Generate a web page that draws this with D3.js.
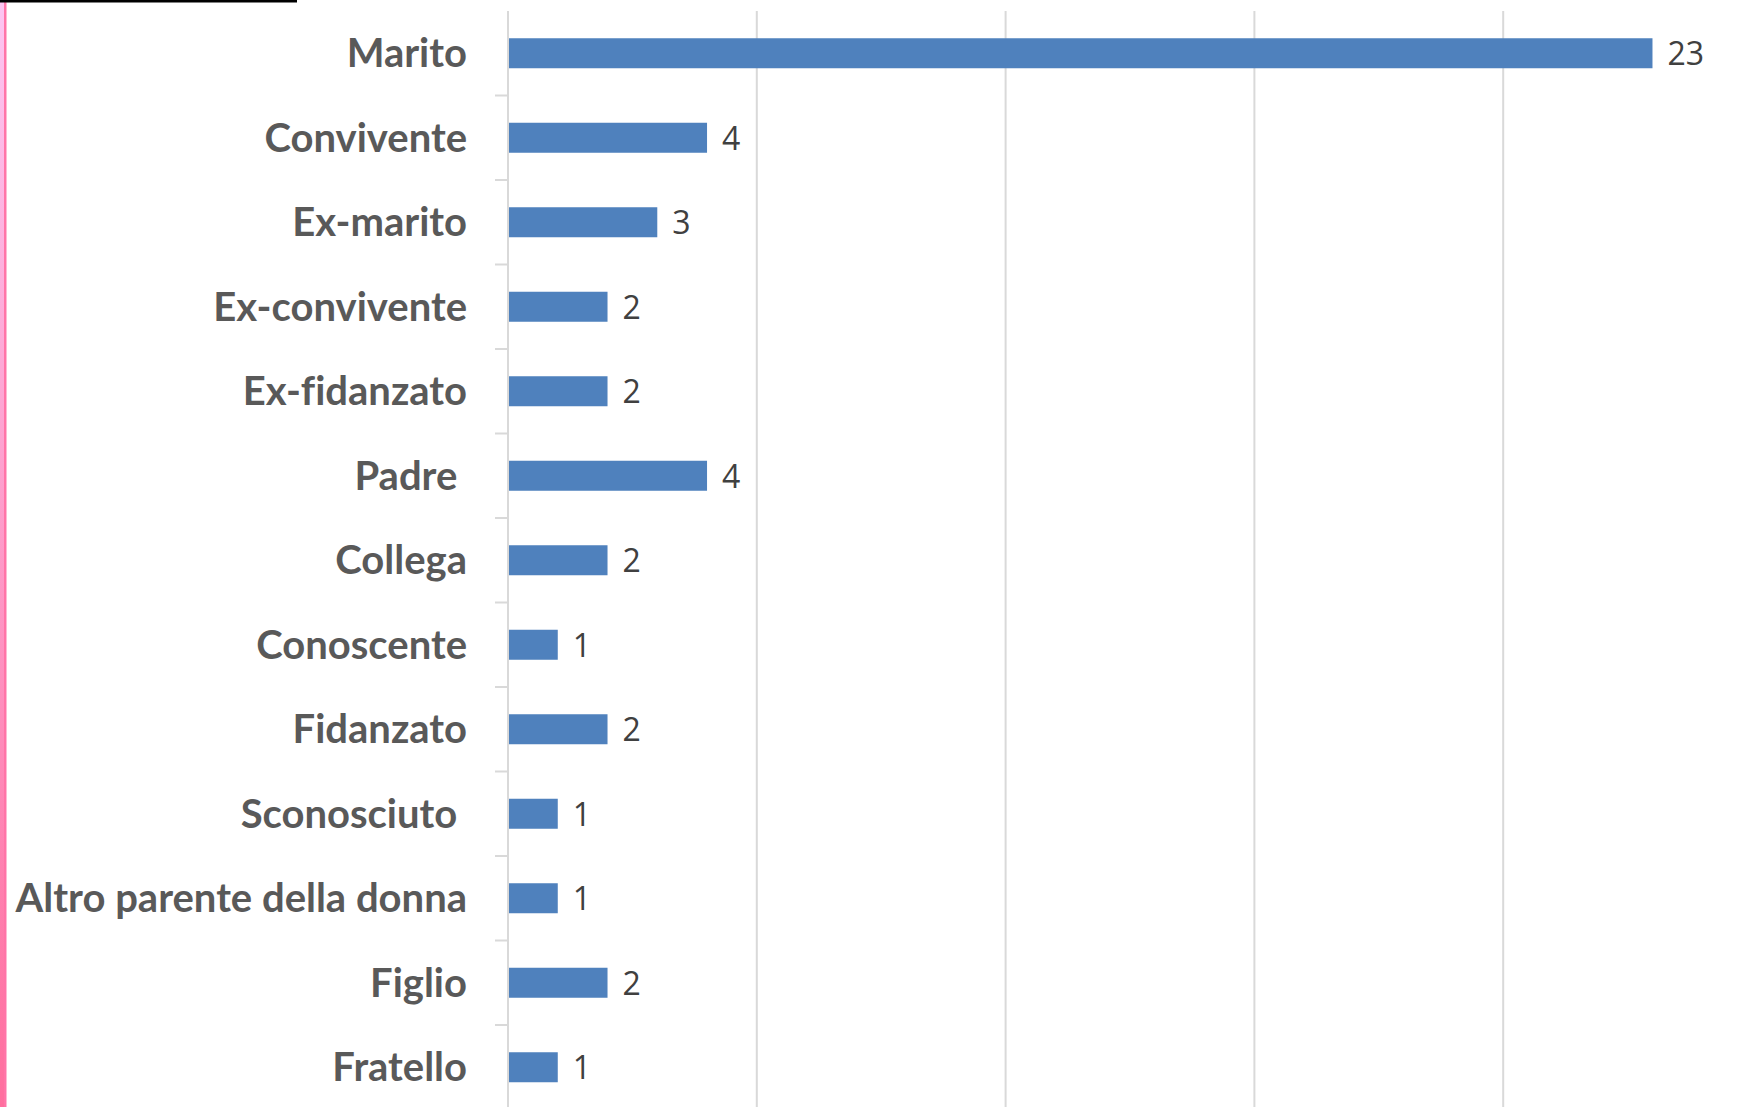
<!DOCTYPE html>
<html lang="it">
<head>
<meta charset="UTF-8">
<title>Autori</title>
<style>
  html, body { margin: 0; padding: 0; background: #fff; overflow: hidden; }
  svg { display: block; }
</style>
</head>
<body>
<svg id="chart"></svg>
<script src="https://cdn.jsdelivr.net/npm/d3@7/dist/d3.min.js"></script>
<script>
    const categories = ["Marito", "Convivente", "Ex-marito", "Ex-convivente", "Ex-fidanzato", "Padre ",
        "Collega", "Conoscente", "Fidanzato", "Sconosciuto ", "Altro parente della donna", "Figlio", "Fratello"];
    const values = [23, 4, 3, 2, 2, 4, 2, 1, 2, 1, 1, 2, 1];
    const gridTicks = [0, 5, 10, 15, 20, 25];

    const width = 1740, height = 1107;
    const axisX = 508, axisTop = 11;

    const svg = d3.select("#chart")
        .attr("width", width)
        .attr("height", height);

    // stripe on the left edge
    const grad = svg.append("defs").append("linearGradient")
        .attr("id", "stripe").attr("x1", 0).attr("x2", 0).attr("y1", 0).attr("y2", 1);
    grad.append("stop").attr("offset", "0%").attr("stop-color", "#fcc6f2");
    grad.append("stop").attr("offset", "100%").attr("stop-color", "#ff6e9e");
    svg.append("rect").attr("x", 0).attr("y", 0).attr("width", 6).attr("height", height).attr("fill", "url(#stripe)");
    svg.append("rect").attr("x", 4).attr("y", 0).attr("width", 2.5).attr("height", height).attr("fill", "#ff75a8");
    svg.append("rect").attr("x", 0).attr("y", 0).attr("width", 297).attr("height", 2.5).attr("fill", "#000");

    const x = d3.scaleLinear().domain([0, 25]).range([axisX, axisX + 1244]);
    const y = d3.scaleBand().domain(categories)
        .range([axisTop, axisTop + 84.5 * categories.length])
        .paddingInner(0.645).paddingOuter(0.3225);

    // vertical gridlines
    svg.append("g")
        .selectAll("line")
        .data(gridTicks.slice(1))
        .join("line")
        .attr("x1", d => x(d)).attr("x2", d => x(d))
        .attr("y1", axisTop).attr("y2", height)
        .attr("stroke", "#d9d9d9").attr("stroke-width", 2);

    // category axis
    const yAxis = d3.axisLeft(y).tickSizeOuter(0).tickSize(0).tickPadding(41);
    const gy = svg.append("g").attr("transform", `translate(${axisX},0)`).call(yAxis);
    gy.select(".domain").attr("stroke", "#d9d9d9").attr("stroke-width", 2).attr("d", `M0,${axisTop}V${height}`);
    gy.selectAll("text")
        .style("white-space", "pre")
        .style("font-variant-ligatures", "none")
        .attr("fill", "#595959")
        .attr("font-family", "Lato, 'Open Sans', sans-serif")
        .attr("font-weight", "bold")
        .attr("font-size", 40)
        .attr("dy", "0.35em");

    // tick marks between categories
    const step = y.step();
    svg.append("g")
        .selectAll("line")
        .data(d3.range(1, categories.length + 1))
        .join("line")
        .attr("x1", axisX - 13).attr("x2", axisX)
        .attr("y1", i => axisTop + i * step).attr("y2", i => axisTop + i * step)
        .attr("stroke", "#d9d9d9").attr("stroke-width", 2);

    // bars
    svg.append("g")
        .selectAll("rect")
        .data(categories)
        .join("rect")
        .attr("x", x(0) + 1)
        .attr("y", d => y(d))
        .attr("width", (d, i) => x(values[i]) - x(0) - 1)
        .attr("height", y.bandwidth())
        .attr("fill", "#4f81bd");

    // value labels
    svg.append("g")
        .selectAll("text")
        .data(categories)
        .join("text")
        .attr("x", (d, i) => x(values[i]) + 15)
        .attr("y", d => y(d) + y.bandwidth() / 2)
        .attr("dy", "0.38em")
        .attr("fill", "#404040")
        .attr("font-family", "'Open Sans', sans-serif")
        .attr("font-size", 32)
        .text((d, i) => values[i]);
</script>
</body>
</html>
